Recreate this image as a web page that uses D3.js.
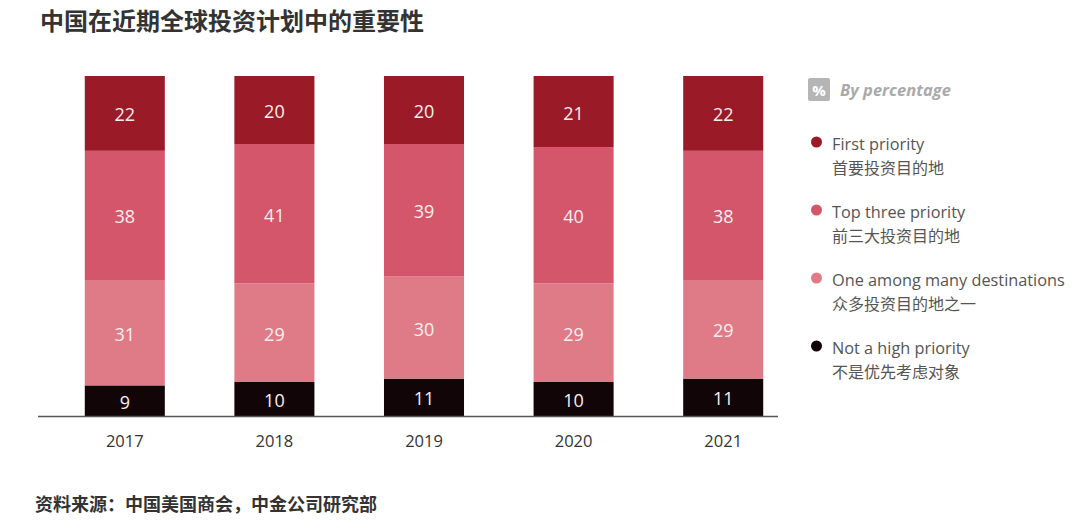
<!DOCTYPE html>
<html><head><meta charset="utf-8">
<script src="https://cdn.jsdelivr.net/npm/d3@7"></script>
<style>
body{margin:0;background:#fff;}
svg{display:block;}
</style></head>
<body>
<script>
const years = ["2017","2018","2019","2020","2021"];
const notHigh = [9,10,11,10,11];
const oneAmong = [31,29,30,29,29];
const topThree = [38,41,39,40,38];
const firstPriority = [22,20,20,21,22];
const seriesKeys = ["notHigh","oneAmong","topThree","firstPriority"];
const seriesEn = ["Not a high priority","One among many destinations","Top three priority","First priority"];
const seriesZh = ["不是优先考虑对象","众多投资目的地之一","前三大投资目的地","首要投资目的地"];
const colors = ["#120507","#de7b87","#d4566b","#9a1a28"];
const title = "中国在近期全球投资计划中的重要性";
const source = "资料来源：中国美国商会，中金公司研究部";

const W=1080,H=532;
const svg=d3.select("body").append("svg").attr("width",W).attr("height",H);
const font="'Open Sans','Noto Sans',sans-serif";
const cjk="'Noto Sans CJK SC','Noto Sans',sans-serif";

const table = years.map((y,i)=>({year:y,notHigh:notHigh[i],oneAmong:oneAmong[i],topThree:topThree[i],firstPriority:firstPriority[i]}));
const stack = d3.stack().keys(seriesKeys)(table);

const x=d3.scaleBand().domain(years).range([50,798]).paddingInner(0.465).paddingOuter(0.2325);
const y=d3.scaleLinear().domain([0,100]).range([416,76]);

svg.append("text").attr("x",40).attr("y",30).attr("font-family",cjk).attr("font-weight","bold")
  .attr("font-size",24).attr("fill","#333").text(title);

const g=svg.append("g");
stack.forEach((s,si)=>{
  g.selectAll(null).data(s).enter().append("rect")
    .attr("x",d=>x(d.data.year)).attr("width",x.bandwidth())
    .attr("y",d=>y(d[1])).attr("height",d=>y(d[0])-y(d[1]))
    .attr("fill",colors[si]);
  g.selectAll(null).data(s).enter().append("text")
    .attr("x",d=>x(d.data.year)+x.bandwidth()/2)
    .attr("y",d=>(y(d[0])+y(d[1]))/2+8)
    .attr("text-anchor","middle").attr("font-family",font).attr("font-size",18)
    .attr("fill","#fbeef0").text(d=>d[1]-d[0]);
});

svg.append("line").attr("x1",38).attr("x2",778).attr("y1",416.5).attr("y2",416.5)
  .attr("stroke","#555").attr("stroke-width",1.5);

const ax=svg.append("g").attr("transform","translate(0,417)")
  .call(d3.axisBottom(x).tickSize(0).tickPadding(18));
ax.select(".domain").remove();
ax.selectAll("text").attr("font-family",font).attr("font-size",16.5).attr("fill","#333");

// legend
const lg=svg.append("g");
lg.append("rect").attr("x",808).attr("y",78).attr("width",22).attr("height",23).attr("rx",2).attr("fill","#b5b5b5");
lg.append("text").attr("x",819).attr("y",96).attr("text-anchor","middle").attr("font-family",font)
  .attr("font-size",15).attr("font-weight","bold").attr("fill","#fff").text("%");
lg.append("text").attr("x",840).attr("y",96).attr("font-family",font).attr("font-size",16.5)
  .attr("font-style","italic").attr("font-weight","bold").attr("fill","#aaa").text("By percentage");
const order=[3,2,1,0];
order.forEach((si,k)=>{
  const cy=142+k*68;
  lg.append("circle").attr("cx",816.5).attr("cy",cy).attr("r",5.5).attr("fill",colors[si]);
  lg.append("text").attr("x",832).attr("y",cy+8).attr("font-family",font).attr("font-size",16.3)
    .attr("fill","#555").text(seriesEn[si]);
  lg.append("text").attr("x",832).attr("y",cy+32).attr("font-family",cjk).attr("font-size",16)
    .attr("fill","#555").text(seriesZh[si]);
});

svg.append("text").attr("x",35).attr("y",511).attr("font-family",cjk).attr("font-weight","bold")
  .attr("font-size",18).attr("fill","#333").text(source);
</script>
</body></html>
